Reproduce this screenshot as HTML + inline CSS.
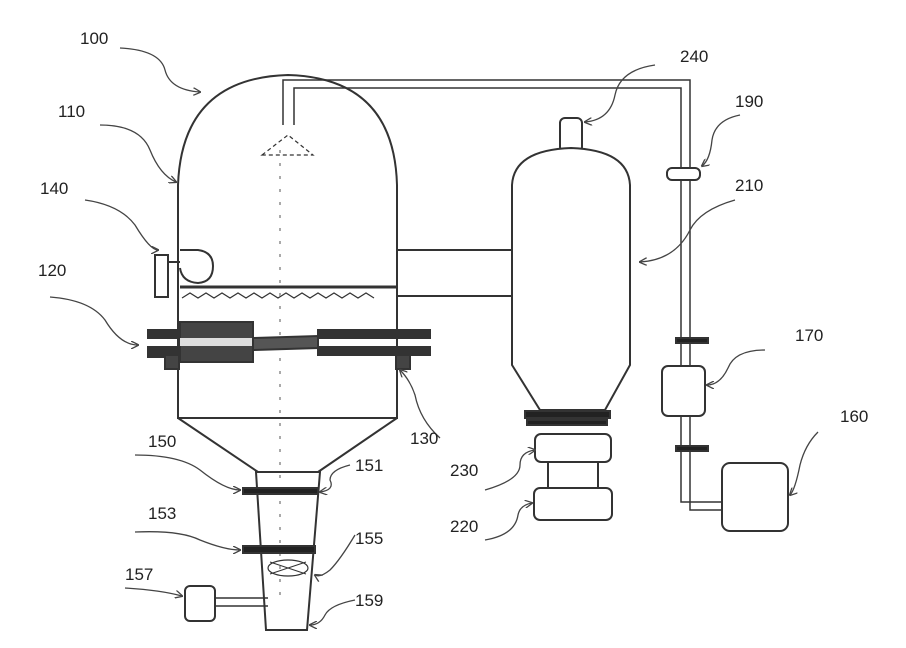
<!DOCTYPE html>
<html><head><style>
html,body{margin:0;padding:0;background:#fff}
svg{display:block}
text{font-family:"Liberation Sans",sans-serif;font-size:17px;fill:#222}
</style></head><body>
<svg width="906" height="648" viewBox="0 0 906 648" xmlns="http://www.w3.org/2000/svg">
<defs><marker id="a" markerWidth="8" markerHeight="8" refX="7" refY="4" orient="auto" markerUnits="userSpaceOnUse"><path d="M0,0 L8,4 L0,8" fill="none" stroke="#444" stroke-width="1.3"/></marker></defs>
<g fill="none" stroke="#333" stroke-width="2">
<path d="M178,418 L178,185 Q182,78 288,75 Q394,78 397,185 L397,418 Z" fill="#fff"/>
<line x1="178" y1="418" x2="397" y2="418"/>
<path d="M178,418 L258,472 M397,418 L318,472"/>
<path d="M256,472 L320,472 L307,630 L266,630 Z"/>
<line x1="180" y1="287" x2="397" y2="287" stroke-width="3"/>
<path d="M182,298 l8,-5 l8,5 l8,-5 l8,5 l8,-5 l8,5 l8,-5 l8,5 l8,-5 l8,5 l8,-5 l8,5 l8,-5 l8,5 l8,-5 l8,5 l8,-5 l8,5 l8,-5 l8,5 l8,-5 l8,5 l8,-5 l8,5" stroke-width="1.2"/>
<line x1="280" y1="150" x2="280" y2="600" stroke="#aaa" stroke-dasharray="3,10"/>
<path d="M262,155 L288,135 L313,155 Z" stroke-dasharray="4,3" stroke-width="1.2"/>
<path d="M283,125 L283,80 L690,80 L690,510 L724,510 M294,125 L294,88 L681,88 L681,502 L724,502" stroke-width="1.5"/>
<path d="M397,250 L512,250 M397,296 L512,296" stroke-width="2"/>
<path d="M180,250 L198,250 Q213,252 213,266 Q213,282 198,283 Q182,282 180,268"/>
<rect x="155" y="255" width="13" height="42"/>
<path d="M168,262 L180,262"/>
<rect x="148" y="330" width="105" height="8" fill="#333"/>
<rect x="148" y="347" width="105" height="10" fill="#333"/>
<rect x="180" y="322" width="73" height="40" fill="#444"/>
<rect x="180" y="338" width="73" height="8" fill="#ddd" stroke="none"/>
<path d="M253,338 L318,336 L318,348 L253,350 Z" fill="#555"/>
<rect x="318" y="330" width="112" height="8" fill="#333"/>
<rect x="318" y="347" width="112" height="8" fill="#333"/>
<rect x="165" y="355" width="14" height="14" fill="#444"/>
<rect x="396" y="355" width="14" height="14" fill="#444"/>
<rect x="243" y="488" width="75" height="6" fill="#222"/>
<rect x="243" y="546" width="72" height="7" fill="#222"/>
<ellipse cx="288" cy="568" rx="20" ry="8" stroke-width="1.2"/>
<path d="M270,562 L306,574 M270,574 L306,562" stroke-width="1"/>
<rect x="185" y="586" width="30" height="35" rx="5"/>
<path d="M215,598 L268,598 M215,606 L268,606" stroke-width="1.5"/>
<rect x="560" y="118" width="22" height="34" rx="5"/>
<path d="M512,365 L512,185 Q514,150 571,148 Q628,150 630,185 L630,365 L605,410 L540,410 Z" fill="#fff"/>
<rect x="525" y="411" width="85" height="7" fill="#222"/>
<rect x="527" y="420" width="80" height="5" fill="#222"/>
<rect x="535" y="434" width="76" height="28" rx="6"/>
<rect x="548" y="462" width="50" height="26"/>
<rect x="534" y="488" width="78" height="32" rx="6"/>
<rect x="667" y="168" width="33" height="12" rx="5" fill="#fff"/>
<rect x="676" y="338" width="32" height="5" fill="#222"/>
<rect x="662" y="366" width="43" height="50" rx="6" fill="#fff"/>
<rect x="676" y="446" width="32" height="5" fill="#222"/>
<rect x="722" y="463" width="66" height="68" rx="8" fill="#fff"/>
</g>
<g fill="none" stroke="#444" stroke-width="1.3" marker-end="url(#a)">
<path d="M120,48 Q160,50 165,70 Q170,90 200,92"/>
<path d="M100,125 Q140,125 150,150 Q160,175 176,182"/>
<path d="M85,200 Q120,205 135,225 Q150,250 158,250"/>
<path d="M50,297 Q90,300 105,320 Q120,345 138,345"/>
<path d="M440,438 Q420,420 415,395 Q410,380 400,370"/>
<path d="M135,455 Q180,455 200,470 Q225,490 240,490"/>
<path d="M350,465 Q330,470 330,480 Q335,490 320,492"/>
<path d="M135,532 Q180,530 200,540 Q225,550 240,550"/>
<path d="M355,535 Q340,560 330,570 Q320,578 315,575"/>
<path d="M125,588 Q160,590 182,596"/>
<path d="M355,600 Q330,605 325,615 Q320,625 310,625"/>
<path d="M485,490 Q520,480 520,465 Q520,452 535,450"/>
<path d="M485,540 Q515,535 518,515 Q520,505 532,503"/>
<path d="M655,65 Q620,70 615,95 Q610,120 585,122"/>
<path d="M740,115 Q715,120 712,140 Q710,160 702,166"/>
<path d="M735,200 Q700,210 690,230 Q675,260 640,262"/>
<path d="M765,350 Q735,350 728,368 Q720,385 707,385"/>
<path d="M818,432 Q805,445 800,465 Q795,490 790,495"/>
</g>
<text x="80" y="44">100</text>
<text x="58" y="117">110</text>
<text x="40" y="194">140</text>
<text x="38" y="276">120</text>
<text x="410" y="444">130</text>
<text x="148" y="447">150</text>
<text x="355" y="471">151</text>
<text x="148" y="519">153</text>
<text x="355" y="544">155</text>
<text x="125" y="580">157</text>
<text x="355" y="606">159</text>
<text x="450" y="476">230</text>
<text x="450" y="532">220</text>
<text x="680" y="62">240</text>
<text x="735" y="107">190</text>
<text x="735" y="191">210</text>
<text x="795" y="341">170</text>
<text x="840" y="422">160</text>
</svg>
</body></html>
